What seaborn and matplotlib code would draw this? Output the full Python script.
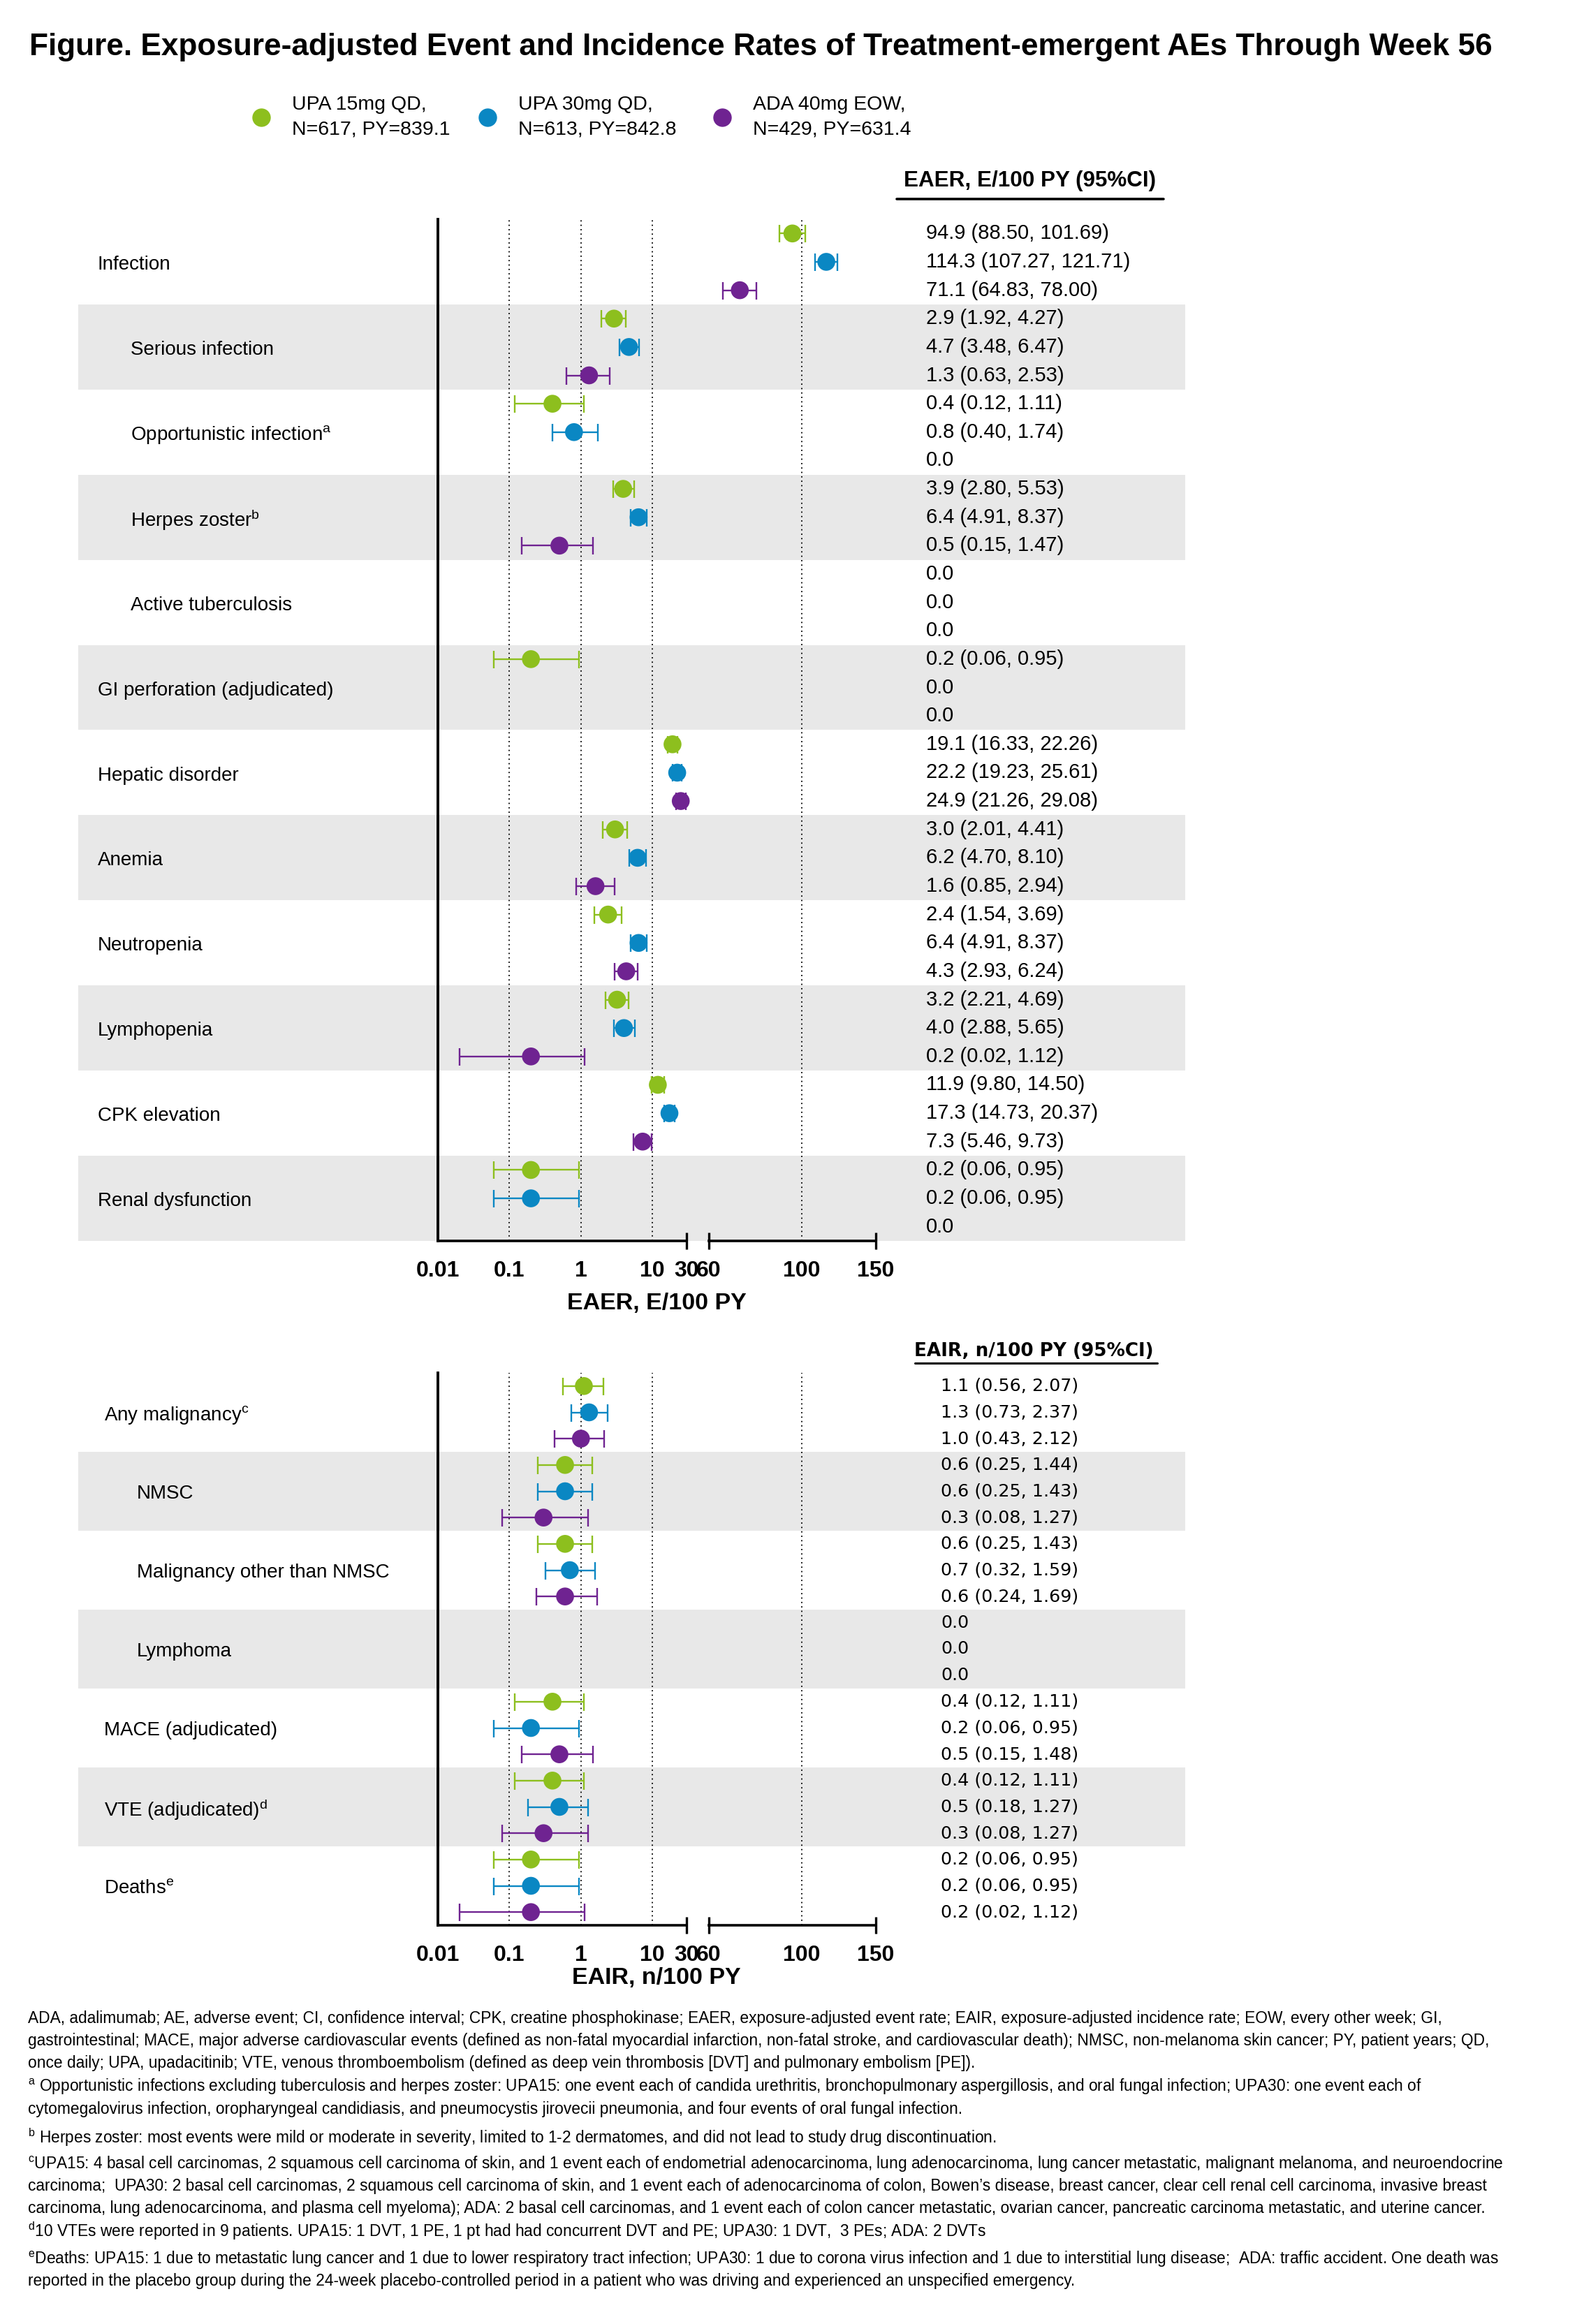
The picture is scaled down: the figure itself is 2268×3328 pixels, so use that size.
import numpy as np
import pandas as pd
import matplotlib
matplotlib.use("Agg")
import matplotlib.pyplot as plt
import matplotlib.transforms as mtransforms
from matplotlib.lines import Line2D
import seaborn as sns

sns.set_style("white")
plt.rcParams.update({
    "font.family": ["Liberation Sans", "DejaVu Sans"],
    "mathtext.fontset": "custom",
    "mathtext.rm": "Liberation Sans",
    "mathtext.it": "Liberation Sans:italic",
    "mathtext.bf": "Liberation Sans:bold",
    "text.color": "black",
    "axes.labelcolor": "black",
    "xtick.color": "black",
    "axes.edgecolor": "black",
})

nan = np.nan

groups = ["UPA 15mg QD", "UPA 30mg QD", "ADA 40mg EOW"]
group_labels = ["UPA 15mg QD,\nN=617, PY=839.1",
                "UPA 30mg QD,\nN=613, PY=842.8",
                "ADA 40mg EOW,\nN=429, PY=631.4"]
colors = ["#8DBF1E", "#0A87C3", "#6F2391"]

# ---- EAER panel ----
eaer_categories = ["Infection", "Serious infection", r"Opportunistic infection$^{\mathrm{a}}$",
                   r"Herpes zoster$^{\mathrm{b}}$", "Active tuberculosis",
                   "GI perforation (adjudicated)", "Hepatic disorder", "Anemia",
                   "Neutropenia", "Lymphopenia", "CPK elevation", "Renal dysfunction"]
eaer_indent = [0, 1, 1, 1, 1, 0, 0, 0, 0, 0, 0, 0]

eaer_upa15_est = [94.9, 2.9, 0.4, 3.9, 0.0, 0.2, 19.1, 3.0, 2.4, 3.2, 11.9, 0.2]
eaer_upa15_lo = [88.50, 1.92, 0.12, 2.80, nan, 0.06, 16.33, 2.01, 1.54, 2.21, 9.80, 0.06]
eaer_upa15_hi = [101.69, 4.27, 1.11, 5.53, nan, 0.95, 22.26, 4.41, 3.69, 4.69, 14.50, 0.95]

eaer_upa30_est = [114.3, 4.7, 0.8, 6.4, 0.0, 0.0, 22.2, 6.2, 6.4, 4.0, 17.3, 0.2]
eaer_upa30_lo = [107.27, 3.48, 0.40, 4.91, nan, nan, 19.23, 4.70, 4.91, 2.88, 14.73, 0.06]
eaer_upa30_hi = [121.71, 6.47, 1.74, 8.37, nan, nan, 25.61, 8.10, 8.37, 5.65, 20.37, 0.95]

eaer_ada_est = [71.1, 1.3, 0.0, 0.5, 0.0, 0.0, 24.9, 1.6, 4.3, 0.2, 7.3, 0.0]
eaer_ada_lo = [64.83, 0.63, nan, 0.15, nan, nan, 21.26, 0.85, 2.93, 0.02, 5.46, nan]
eaer_ada_hi = [78.00, 2.53, nan, 1.47, nan, nan, 29.08, 2.94, 6.24, 1.12, 9.73, nan]

# ---- EAIR panel ----
eair_categories = [r"Any malignancy$^{\mathrm{c}}$", "NMSC", "Malignancy other than NMSC",
                   "Lymphoma", "MACE (adjudicated)", r"VTE (adjudicated)$^{\mathrm{d}}$",
                   r"Deaths$^{\mathrm{e}}$"]
eair_indent = [0, 1, 1, 1, 0, 0, 0]

eair_upa15_est = [1.1, 0.6, 0.6, 0.0, 0.4, 0.4, 0.2]
eair_upa15_lo = [0.56, 0.25, 0.25, nan, 0.12, 0.12, 0.06]
eair_upa15_hi = [2.07, 1.44, 1.43, nan, 1.11, 1.11, 0.95]

eair_upa30_est = [1.3, 0.6, 0.7, 0.0, 0.2, 0.5, 0.2]
eair_upa30_lo = [0.73, 0.25, 0.32, nan, 0.06, 0.18, 0.06]
eair_upa30_hi = [2.37, 1.43, 1.59, nan, 0.95, 1.27, 0.95]

eair_ada_est = [1.0, 0.3, 0.6, 0.0, 0.5, 0.3, 0.2]
eair_ada_lo = [0.43, 0.08, 0.24, nan, 0.15, 0.08, 0.02]
eair_ada_hi = [2.12, 1.27, 1.69, nan, 1.48, 1.27, 1.12]

left_ticks = [0.01, 0.1, 1, 10, 30]
left_ticklabels = ["0.01", "0.1", "1", "10", "30"]
right_ticks = [60, 100, 150]
right_ticklabels = ["60", "100", "150"]
right_minor = [65, 70, 75, 80, 85, 90, 95, 110, 120, 130, 140]

title = ("Figure. Exposure-adjusted Event and Incidence Rates of "
         "Treatment-emergent AEs Through Week 56")

footnotes = [
    "ADA, adalimumab; AE, adverse event; CI, confidence interval; CPK, creatine phosphokinase; EAER, exposure-adjusted event rate; EAIR, exposure-adjusted incidence rate; EOW, every other week; GI,",
    "gastrointestinal; MACE, major adverse cardiovascular events (defined as non-fatal myocardial infarction, non-fatal stroke, and cardiovascular death); NMSC, non-melanoma skin cancer; PY, patient years; QD,",
    "once daily; UPA, upadacitinib; VTE, venous thromboembolism (defined as deep vein thrombosis [DVT] and pulmonary embolism [PE]).",
    r"$^{\mathrm{a}}$ Opportunistic infections excluding tuberculosis and herpes zoster: UPA15: one event each of candida urethritis, bronchopulmonary aspergillosis, and oral fungal infection; UPA30: one event each of",
    "cytomegalovirus infection, oropharyngeal candidiasis, and pneumocystis jirovecii pneumonia, and four events of oral fungal infection.",
    r"$^{\mathrm{b}}$ Herpes zoster: most events were mild or moderate in severity, limited to 1-2 dermatomes, and did not lead to study drug discontinuation.",
    r"$^{\mathrm{c}}$UPA15: 4 basal cell carcinomas, 2 squamous cell carcinoma of skin, and 1 event each of endometrial adenocarcinoma, lung adenocarcinoma, lung cancer metastatic, malignant melanoma, and neuroendocrine",
    "carcinoma;  UPA30: 2 basal cell carcinomas, 2 squamous cell carcinoma of skin, and 1 event each of adenocarcinoma of colon, Bowen\u2019s disease, breast cancer, clear cell renal cell carcinoma, invasive breast",
    "carcinoma, lung adenocarcinoma, and plasma cell myeloma); ADA: 2 basal cell carcinomas, and 1 event each of colon cancer metastatic, ovarian cancer, pancreatic carcinoma metastatic, and uterine cancer.",
    r"$^{\mathrm{d}}$10 VTEs were reported in 9 patients. UPA15: 1 DVT, 1 PE, 1 pt had had concurrent DVT and PE; UPA30: 1 DVT,  3 PEs; ADA: 2 DVTs",
    r"$^{\mathrm{e}}$Deaths: UPA15: 1 due to metastatic lung cancer and 1 due to lower respiratory tract infection; UPA30: 1 due to corona virus infection and 1 due to interstitial lung disease;  ADA: traffic accident. One death was",
    "reported in the placebo group during the 24-week placebo-controlled period in a patient who was driving and experienced an unspecified emergency.",
]
footnote_y = [2891, 2923, 2954, 2988, 3021, 3061, 3099, 3131, 3162, 3195, 3235, 3267]

W, H = 2268, 3328
fig = plt.figure(figsize=(W / 100, H / 100), dpi=100)


def fx(px):
    return px / W


def fy(py):
    return 1 - py / H


def build_frame(ests, los, his):
    recs = []
    for g, (e, lo, hi) in enumerate(zip(ests, los, his)):
        for k in range(len(e)):
            recs.append({"row": 3 * k + g, "group": groups[g],
                         "est": e[k], "lo": lo[k], "hi": hi[k]})
    return pd.DataFrame(recs)


def draw_panel(df, cats, indent, top_px, bot_px, label_x, value_x, value_font,
               value_size, xlabel, xlabel_y):
    n_rows = 3 * len(cats)
    b = fy(bot_px)
    h = (bot_px - top_px) / H
    ylim = (n_rows - 0.5, -0.5)

    ax_bg = fig.add_axes([0, b, 1, h], zorder=-1)
    ax_bg.set_xlim(0, 1)
    ax_bg.set_ylim(*ylim)
    ax_bg.axis("off")
    for k in range(1, len(cats), 2):
        ax_bg.axhspan(3 * k - 0.5, 3 * k + 2.5, xmin=fx(112), xmax=fx(1697),
                      color="#E8E8E8", lw=0)
    for k, cat in enumerate(cats):
        ax_bg.text(fx(label_x[indent[k]]), 3 * k + 1.1, cat, ha="left",
                   va="center", fontsize=20)
    for _, r in df.iterrows():
        txt = "0.0" if r.est == 0 else f"{r.est:.1f} ({r.lo:.2f}, {r.hi:.2f})"
        ax_bg.text(fx(value_x), r.row, txt, ha="left", va="center",
                   fontsize=value_size, family=value_font)

    ax_l = fig.add_axes([fx(627), b, fx(983 - 627), h])
    ax_r = fig.add_axes([fx(1015), b, fx(1254 - 1015), h])
    for ax, lo_lim, hi_lim in ((ax_l, 0.01, 30), (ax_r, 60, 150)):
        ax.set_facecolor("none")
        ax.set_xscale("log")
        sub = df[(df.est >= lo_lim) & (df.est <= hi_lim)]
        for g, c in zip(groups, colors):
            s = sub[sub.group == g]
            if s.empty:
                continue
            eb = ax.errorbar(s.est, s.row, xerr=[s.est - s.lo, s.hi - s.est],
                             fmt="none", ecolor=c, elinewidth=1.7, capsize=9,
                             capthick=1.7, zorder=2)
            for art in list(eb.lines[1]) + list(eb.lines[2]):
                art.set_clip_on(False)
        sns.scatterplot(data=sub, x="est", y="row", hue="group", hue_order=groups,
                        palette=colors, s=340, linewidth=0, legend=False, ax=ax,
                        zorder=3, clip_on=False)
        ax.set_xlim(lo_lim, hi_lim)
        ax.set_ylim(*ylim)
        ax.set_xlabel("")
        ax.set_ylabel("")
        ax.tick_params(axis="y", left=False, labelleft=False)
        for sp in ("top", "right"):
            ax.spines[sp].set_visible(False)
        ax.spines["bottom"].set_linewidth(2.6)
        ax.tick_params(axis="x", which="major", direction="out", length=12,
                       width=2.2, pad=8)
        ax.tick_params(axis="x", which="minor", direction="out", length=6,
                       width=1.8)
        ax.grid(False)

    ax_l.spines["left"].set_linewidth(2.8)
    ax_r.spines["left"].set_visible(False)

    ax_l.set_xticks(left_ticks, left_ticklabels, fontsize=23, fontweight="bold")
    ax_l.xaxis.set_minor_locator(matplotlib.ticker.LogLocator(base=10, subs=range(2, 10)))
    ax_l.xaxis.set_minor_formatter(matplotlib.ticker.NullFormatter())
    ax_r.set_xticks(right_ticks, right_ticklabels, fontsize=23, fontweight="bold")
    ax_r.xaxis.set_minor_locator(matplotlib.ticker.FixedLocator(right_minor))
    ax_r.xaxis.set_minor_formatter(matplotlib.ticker.NullFormatter())

    for x in (0.1, 1, 10):
        ax_l.axvline(x, color="black", lw=1.3, ls=(0, (1, 2.5)), zorder=1)
    ax_r.axvline(100, color="black", lw=1.3, ls=(0, (1, 2.5)), zorder=1)

    # break marks crossing the axis line
    for ax, x in ((ax_l, 30), (ax_r, 60), (ax_r, 150)):
        tr = mtransforms.blended_transform_factory(ax.transData, ax.transAxes)
        ax.plot([x], [0], transform=tr, marker="|", ms=17, mew=2.4,
                color="black", clip_on=False)

    fig.text(fx(940), fy(xlabel_y), xlabel, ha="center", va="center",
             fontsize=24.5, fontweight="bold")


eaer_df = build_frame([eaer_upa15_est, eaer_upa30_est, eaer_ada_est],
                      [eaer_upa15_lo, eaer_upa30_lo, eaer_ada_lo],
                      [eaer_upa15_hi, eaer_upa30_hi, eaer_ada_hi])
eair_df = build_frame([eair_upa15_est, eair_upa30_est, eair_ada_est],
                      [eair_upa15_lo, eair_upa30_lo, eair_ada_lo],
                      [eair_upa15_hi, eair_upa30_hi, eair_ada_hi])

draw_panel(eaer_df, eaer_categories, eaer_indent, 314, 1777, (140, 187), 1326,
           "Liberation Sans", 21, "EAER, E/100 PY", 1867)
draw_panel(eair_df, eair_categories, eair_indent, 1966, 2757, (149, 196), 1347,
           "DejaVu Sans", 18.3, "EAIR, n/100 PY", 2833)

# column headers
fig.text(fx(1475), fy(259), "EAER, E/100 PY (95%CI)", ha="center", va="center",
         fontsize=22.6, fontweight="bold")
fig.add_artist(Line2D([fx(1284), fx(1666)], [fy(285), fy(285)], color="black", lw=2.6))
fig.text(fx(1480), fy(1935), "EAIR, n/100 PY (95%CI)", ha="center", va="center",
         fontsize=18.9, fontweight="bold", family="DejaVu Sans")
fig.add_artist(Line2D([fx(1310), fx(1657)], [fy(1952), fy(1952)], color="black", lw=2.2))

# legend
for lbl, c, x in zip(group_labels, colors, (372, 696, 1032)):
    handle = Line2D([], [], marker="o", ls="none", color=c, ms=18)
    leg = fig.legend(handles=[handle], labels=[lbl], loc="center left",
                     bbox_to_anchor=(fx(x - 12.5), fy(168)), frameon=False,
                     fontsize=20.5, handlelength=1.0, handletextpad=1.05,
                     borderpad=0, borderaxespad=0)
    for t in leg.get_texts():
        t.set_linespacing(1.5)

fig.text(fx(42), fy(67), title, ha="left", va="center", fontsize=31.8,
         fontweight="bold")

for line, y in zip(footnotes, footnote_y):
    fig.text(fx(40), fy(y), line, ha="left", va="center", fontsize=16.35)

fig.savefig("out.png", dpi=100)
